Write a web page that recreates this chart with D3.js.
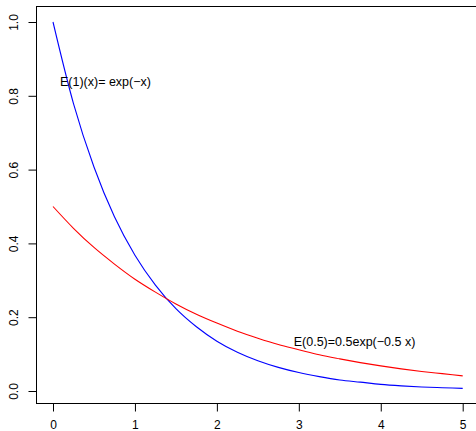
<!DOCTYPE html>
<html>
<head>
<meta charset="utf-8">
<script src="https://cdn.jsdelivr.net/npm/d3@7"></script>
<style>
  body { margin: 0; background: #fff; }
  svg { display: block; font-family: "Liberation Sans", Arial, sans-serif; }
</style>
</head>
<body>
<svg width="476" height="431"></svg>
<script>
// values
var xs = [0, 0.25, 0.5, 0.75, 1, 1.25, 1.5, 1.75, 2, 2.25, 2.5, 2.75, 3, 3.25, 3.5, 3.75, 4, 4.25, 4.5, 4.75, 5];
var blueVals = [1, 0.779, 0.607, 0.472, 0.368, 0.287, 0.223, 0.174, 0.135, 0.105, 0.082, 0.064, 0.050, 0.039, 0.030, 0.024, 0.018, 0.014, 0.011, 0.009, 0.007];
var redVals = [0.5, 0.441, 0.389, 0.344, 0.303, 0.268, 0.236, 0.208, 0.184, 0.162, 0.143, 0.126, 0.112, 0.098, 0.087, 0.077, 0.068, 0.060, 0.053, 0.047, 0.041];
var xTicks = [0, 1, 2, 3, 4, 5];
var yTicks = [0, 0.2, 0.4, 0.6, 0.8, 1.0];
var labels = [
    {text: "E(1)(x)= exp(\u2212x)", x: 0.64, y: 0.838},
    {text: "E(0.5)=0.5exp(\u22120.5 x)", x: 3.68, y: 0.135}
];

var svg = d3.select("svg");

var x = d3.scaleLinear().domain([0, 5]).range([53, 462.7]);
var y = d3.scaleLinear().domain([0, 1]).range([391, 22]);

// plot box (left, top, bottom; the right side runs off the page)
var box = {left: 36.5, top: 6.5, right: 480, bottom: 403.5};
svg.append("rect")
    .attr("x", box.left).attr("y", box.top)
    .attr("width", box.right - box.left).attr("height", box.bottom - box.top)
    .attr("fill", "none").attr("stroke", "#000").attr("stroke-width", 1);

var line = d3.line()
    .x(function (d) { return x(d[0]); })
    .y(function (d) { return y(d[1]); })
    .curve(d3.curveMonotoneX);

svg.append("path")
    .datum(xs.map(function (v, i) { return [v, blueVals[i]]; }))
    .attr("d", line)
    .attr("fill", "none").attr("stroke", "#0000ff").attr("stroke-width", 1.1);

svg.append("path")
    .datum(xs.map(function (v, i) { return [v, redVals[i]]; }))
    .attr("d", line)
    .attr("fill", "none").attr("stroke", "#ff0000").attr("stroke-width", 1.1);

// x axis
var xAxis = d3.axisBottom(x).tickValues(xTicks).tickSize(8).tickPadding(9)
    .tickFormat(d3.format("d"));
var gx = svg.append("g")
    .attr("transform", "translate(0," + box.bottom + ")")
    .call(xAxis);
gx.select(".domain").remove();
gx.selectAll("text").attr("font-size", 12).attr("fill", "#000")
    .attr("font-family", "Liberation Sans, Arial, sans-serif");

// y axis
var yAxis = d3.axisLeft(y).tickValues(yTicks).tickSize(8)
    .tickFormat(d3.format(".1f"));
var gy = svg.append("g")
    .attr("transform", "translate(" + box.left + ",0)")
    .call(yAxis);
gy.select(".domain").remove();
gy.selectAll("text")
    .attr("font-size", 12).attr("fill", "#000")
    .attr("font-family", "Liberation Sans, Arial, sans-serif")
    .attr("text-anchor", "middle")
    .attr("x", null).attr("dy", null)
    .attr("transform", "translate(-18.5,0) rotate(-90)");

// curve labels
svg.selectAll(".lbl")
    .data(labels)
    .enter().append("text")
    .attr("class", "lbl")
    .attr("x", function (d) { return x(d.x); })
    .attr("y", function (d) { return y(d.y); })
    .attr("dy", "0.35em")
    .attr("text-anchor", "middle")
    .attr("font-size", 12.5)
    .attr("fill", "#000")
    .text(function (d) { return d.text; });
</script>
</body>
</html>
